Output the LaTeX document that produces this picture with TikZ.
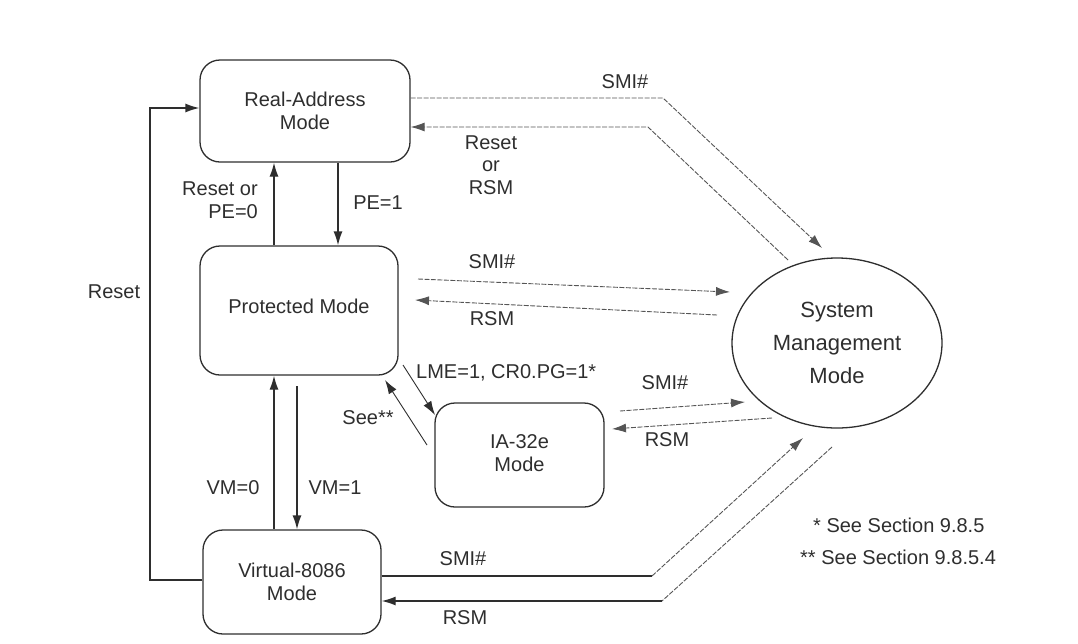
\documentclass[tikz,border=0pt]{standalone}
\usepackage{fontspec}
\setmainfont{Liberation Sans}
\usetikzlibrary{arrows.meta,shapes.geometric,calc}
\definecolor{ink}{HTML}{2E2E2E}
\definecolor{lin}{HTML}{555555}
\tikzset{
  modebox/.style={draw=ink, line width=1.3pt, rounded corners=20pt, align=center, text=ink, font=\fontsize{20}{23}\selectfont, inner sep=0pt},
  lbl/.style={text=ink, font=\fontsize{20}{23}\selectfont, align=center, inner sep=0pt},
  solidarr/.style={draw=ink, line width=1.3pt, -{Latex[length=14pt,width=9pt]}},
  solidln/.style={draw=ink, line width=1.3pt},
  dashln/.style={draw=lin, line width=0.9pt, dash pattern=on 5pt off 1.5pt},
  dasharr/.style={dashln, -{Latex[length=14pt,width=9pt]}},
}
\begin{document}
\begin{tikzpicture}[x=1pt,y=-1pt]
\useasboundingbox (0,0) rectangle (1078,643);
% nodes
\node[modebox, minimum width=210, minimum height=102] (ra) at (305,111) {Real-Address\\Mode};
\node[modebox, minimum width=198, minimum height=129] (pm) at (299,310.5) {\raisebox{9pt}{Protected Mode}};
\node[modebox, minimum width=169, minimum height=104] (ia) at (519.5,455) {\raisebox{13pt}{\begin{tabular}{@{}c@{}}IA-32e\\Mode\end{tabular}}};
\node[modebox, minimum width=178, minimum height=104] (v86) at (292,582) {Virtual-8086\\Mode};
\node[ellipse, draw=ink, line width=1.3pt, minimum width=210, minimum height=170, align=center, text=ink, font=\fontsize{22}{33}\selectfont, inner sep=0pt] (smm) at (837,343) {System\\Management\\Mode};

% helper coordinates
\coordinate (xa) at (274,0);
\coordinate (xb) at (338,0);
\coordinate (xc) at (297,0);
\coordinate (xl) at (150,0);

% Reset (left loop)
\draw[solidarr] (v86.west |- 0,580) -- (xl |- 0,580) -- (xl |- 0,108) -- (ra.west |- 0,108);
\node[lbl] (lreset) at (114,292) {Reset};

% Real <-> Protected
\draw[solidarr] (xa |- pm.north) -- (xa |- ra.south);
\draw[solidarr] (xb |- ra.south) -- (xb |- pm.north);
\node[lbl, align=right, anchor=east] (lpe0) at (258,200) {Reset or\\PE=0};
\node[lbl] (lpe1) at (378,203) {PE=1};

% Protected <-> Virtual
\draw[solidarr] (xa |- v86.north) -- (xa |- pm.south);
\draw[solidarr] (xc |- 0,386) -- (xc |- v86.north);
\node[lbl] (lvm0) at (233,488) {VM=0};
\node[lbl] (lvm1) at (335,488) {VM=1};

% Protected <-> IA-32e
\coordinate (lme1) at (403,365);
\coordinate (lme2) at (435,415);
\draw[draw=ink, line width=0.9pt, -{Latex[length=14pt,width=9pt]}] (lme1) -- (lme2);
\node[lbl, anchor=west] (llme) at (416,373) {LME=1, CR0.PG=1*};
\coordinate (see1) at (427,445);
\coordinate (see2) at (385,380);
\draw[draw=ink, line width=0.9pt, -{Latex[length=14pt,width=9pt]}] (see1) -- (see2);
\node[lbl] (lsee) at (368,418) {See**};

% Real <-> SMM
\coordinate (k1) at (663,98);
\coordinate (t1) at (822,248);
\draw[dasharr] (ra.east |- k1) -- (k1) -- (t1);
\node[lbl] (lsmi1) at (625,82) {SMI\#};
\coordinate (s2) at (788,260);
\coordinate (k2) at (648,127);
\draw[dasharr] (s2) -- (k2) -- (ra.east |- k2);
\node[lbl, font=\fontsize{20}{22.5}\selectfont] (lrr) at (491,165) {Reset\\or\\RSM};

% Protected <-> SMM
\coordinate (p1) at (418,279);
\coordinate (p2) at (730,292);
\draw[dasharr] (p1) -- (p2);
\node[lbl] (lsmi2) at (492,262) {SMI\#};
\coordinate (p3) at (717,315);
\coordinate (p4) at (415,300);
\draw[dasharr] (p3) -- (p4);
\node[lbl] (lrsm2) at (492,319) {RSM};

% IA-32e <-> SMM
\coordinate (i1) at (620,411);
\coordinate (i2) at (745,402);
\draw[dasharr] (i1) -- (i2);
\node[lbl] (lsmi3) at (665,383) {SMI\#};
\coordinate (i3) at (772,418);
\coordinate (i4) at (612,429);
\draw[dasharr] (i3) -- (i4);
\node[lbl] (lrsm3) at (667,440) {RSM};

% Virtual <-> SMM
\coordinate (v1) at (652,576);
\coordinate (v2) at (803,438);
\draw[solidln] (v86.east |- v1) -- (v1);
\draw[dasharr] (v1) -- (v2);
\node[lbl] (lsmi4) at (463,559) {SMI\#};
\coordinate (v3) at (832,447);
\coordinate (v4) at (662,601);
\draw[dashln] (v3) -- (v4);
\draw[solidarr] (v4) -- (v86.east |- v4);
\node[lbl] (lrsm4) at (465,618) {RSM};

% footnotes
\node[lbl, anchor=west] (fn1) at (813,525) {* See Section 9.8.5};
\node[lbl, anchor=west] (fn2) at (800,557) {** See Section 9.8.5.4};
\end{tikzpicture}
\end{document}
